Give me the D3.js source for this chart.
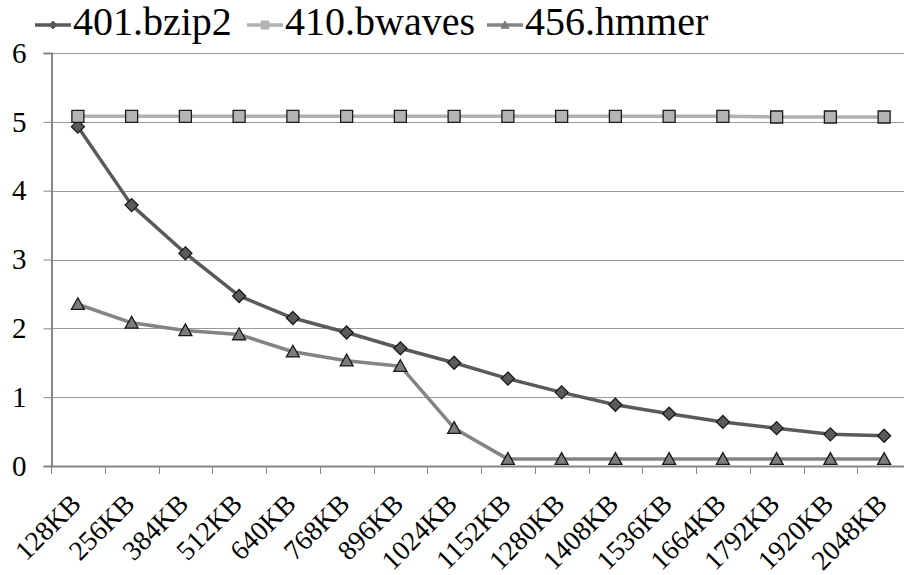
<!DOCTYPE html>
<html>
<head>
<meta charset="utf-8">
<script src="https://cdn.jsdelivr.net/npm/d3@7"></script>
<style>
  html, body { margin: 0; padding: 0; background: #fff; }
  svg { display: block; }
</style>
</head>
<body>
<svg id="chart" width="904" height="575"></svg>
<script>
// Cache sizes on the x axis
const categories = ["128KB", "256KB", "384KB", "512KB", "640KB", "768KB", "896KB", "1024KB",
  "1152KB", "1280KB", "1408KB", "1536KB", "1664KB", "1792KB", "1920KB", "2048KB"];

// One value per cache size for each benchmark
const bzip2 = [4.93, 3.79, 3.09, 2.47, 2.15, 1.94, 1.71, 1.50, 1.27, 1.07, 0.89, 0.76, 0.64, 0.55, 0.46, 0.44];
const bwaves = [5.08, 5.08, 5.08, 5.08, 5.08, 5.08, 5.08, 5.08, 5.08, 5.08, 5.08, 5.08, 5.08, 5.07, 5.07, 5.07];
const hmmer = [2.35, 2.08, 1.97, 1.91, 1.66, 1.53, 1.45, 0.55, 0.10, 0.10, 0.10, 0.10, 0.10, 0.10, 0.10, 0.10];

const seriesNames = ["401.bzip2", "410.bwaves", "456.hmmer"];
const yTicks = [0, 1, 2, 3, 4, 5, 6];

const FONT = "Liberation Serif, Tinos, Times New Roman, Times, Nimbus Roman, FreeSerif, Noto Serif, DejaVu Serif, serif";

const series = [
  { name: seriesNames[0], values: bzip2, line: "#5a5a5a", fill: "#5a5a5a", marker: "diamond" },
  { name: seriesNames[1], values: bwaves, line: "#b2b2b2", fill: "#b4b4b4", marker: "square" },
  { name: seriesNames[2], values: hmmer, line: "#848484", fill: "#7c7c7c", marker: "triangle" }
];

const svg = d3.select("#chart").attr("font-family", FONT).style("font-family", FONT);
const plot = { left: 51, right: 911, top: 53, bottom: 466 };

const x = d3.scaleBand().domain(categories).range([plot.left, plot.right]);
const y = d3.scaleLinear().domain([0, 6]).range([plot.bottom, plot.top]);

// Horizontal gridlines
svg.append("g")
  .selectAll("line")
  .data(yTicks.filter(t => t > 0))
  .join("line")
  .attr("x1", plot.left).attr("x2", 904)
  .attr("y1", d => Math.round(y(d)) + 0.5).attr("y2", d => Math.round(y(d)) + 0.5)
  .attr("stroke", "#9a9a9a").attr("stroke-width", 1);

// Y axis
const yAxis = svg.append("g")
  .attr("transform", `translate(${plot.left + 0.5},0)`)
  .call(d3.axisLeft(y).tickValues(yTicks).tickFormat(d3.format("d")).tickSize(8).tickPadding(17));
yAxis.attr("font-family", null).style("font-family", FONT);
yAxis.select(".domain").attr("stroke", "#868686").attr("stroke-width", 2);
yAxis.selectAll(".tick line").attr("stroke", "#868686").attr("stroke-width", 1);
yAxis.selectAll(".tick text").attr("font-size", 29).attr("fill", "#000").style("font-family", FONT);

// X axis
const xAxis = svg.append("g")
  .attr("transform", `translate(0,${plot.bottom})`)
  .call(d3.axisBottom(x).tickSize(0).tickFormat(""));
xAxis.select(".domain").attr("stroke", "#868686").attr("stroke-width", 2);

// Tick marks on category boundaries
svg.append("g")
  .selectAll("line")
  .data(d3.range(categories.length + 1))
  .join("line")
  .attr("x1", i => Math.round(plot.left + i * x.step()) + 0.5)
  .attr("x2", i => Math.round(plot.left + i * x.step()) + 0.5)
  .attr("y1", plot.bottom).attr("y2", plot.bottom + 8)
  .attr("stroke", "#868686").attr("stroke-width", 1);

// Rotated category labels
svg.append("g")
  .selectAll("text")
  .data(categories)
  .join("text")
  .attr("transform", d => `translate(${x(d) + x.bandwidth() / 2 - 9},${plot.bottom + 26}) rotate(-45)`)
  .attr("text-anchor", "end")
  .attr("dy", "0.7em")
  .attr("font-size", 27.5)
  .style("font-family", FONT)
  .text(d => d);

// Marker shapes
function markerPath(type, size) {
  const h = size / 2;
  if (type === "diamond") return `M0,${-h}L${h},0L0,${h}L${-h},0Z`;
  if (type === "square") return `M${-h},${-h}H${h}V${h}H${-h}Z`;
  const t = size * 0.5;
  return `M0,${-t}L${h},${t * 0.8}L${-h},${t * 0.8}Z`;
}
const markerSize = { diamond: 13, square: 12, triangle: 13 };

// Lines and markers
const line = d3.line()
  .x((d, i) => x(categories[i]) + x.bandwidth() / 2)
  .y(d => y(d));

series.forEach(s => {
  const g = svg.append("g");
  g.append("path")
    .attr("d", line(s.values))
    .attr("fill", "none")
    .attr("stroke", s.line)
    .attr("stroke-width", 3.5)
    .attr("stroke-linejoin", "round");
  g.selectAll("path.mk")
    .data(s.values)
    .join("path")
    .attr("class", "mk")
    .attr("transform", (d, i) => `translate(${x(categories[i]) + x.bandwidth() / 2},${y(d)})`)
    .attr("d", markerPath(s.marker, markerSize[s.marker]))
    .attr("fill", s.fill)
    .attr("stroke", "#1a1a1a")
    .attr("stroke-width", 1.3);
});

// Legend
const legendX = [35, 247, 487];
const legend = svg.append("g");
series.forEach((s, i) => {
  const g = legend.append("g").attr("transform", `translate(${legendX[i]},25)`);
  g.append("line").attr("x1", 0).attr("x2", 36).attr("y1", 0).attr("y2", 0)
    .attr("stroke", s.line).attr("stroke-width", 3.5);
  g.append("path").attr("transform", "translate(18,0)")
    .attr("d", markerPath(s.marker, 8))
    .attr("fill", s.fill).attr("stroke", s.fill).attr("stroke-width", 1);
  g.append("text").attr("x", 38).attr("y", 10)
    .attr("font-size", 40)
    .style("font-family", FONT)
    .text(s.name);
});
</script>
</body>
</html>
